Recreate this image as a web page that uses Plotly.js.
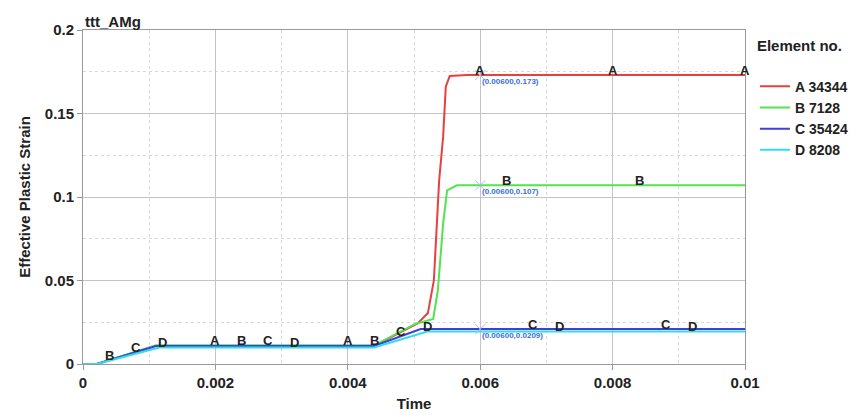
<!DOCTYPE html>
<html>
<head>
<meta charset="utf-8">
<script src="https://cdn.plot.ly/plotly-3.0.1.min.js"></script>
<style>html,body{margin:0;padding:0;background:#fff;}#chart{width:856px;height:417px;}</style>
</head>
<body>
<div id="chart"></div>
<script>
// Series A (element 34344)
const tA = [0, 0.00021, 0.0011, 0.0044, 0.00506, 0.00521, 0.0053, 0.00538, 0.00544, 0.00548, 0.00554, 0.0058, 0.01];
const vA = [0, 0, 0.0108, 0.0108, 0.0245, 0.0305, 0.050, 0.110, 0.136, 0.166, 0.1725, 0.173, 0.173];
// Series B (element 7128)
const tB = [0, 0.00021, 0.0011, 0.0044, 0.00502, 0.00529, 0.00536, 0.00544, 0.0055, 0.00565, 0.01];
const vB = [0, 0, 0.0112, 0.0112, 0.024, 0.027, 0.044, 0.084, 0.104, 0.107, 0.107];
// Series C (element 35424)
const tC = [0, 0.00021, 0.0011, 0.0044, 0.0051, 0.01];
const vC = [0, 0, 0.0108, 0.0108, 0.0209, 0.0209];
// Series D (element 8208)
const tD = [0, 0.00021, 0.00115, 0.0044, 0.0052, 0.01];
const vD = [0, 0, 0.0099, 0.0099, 0.0195, 0.0195];

const letters = ['A', 'B', 'C', 'D'];
const elementNos = ['34344', '7128', '35424', '8208'];
const colors = ['#e8403f', '#52e34f', '#3f3fdc', '#33dcea'];
// label positions (time) along each curve
const labelT = [
  [0.002, 0.004, 0.006, 0.008, 0.01],
  [0.0004, 0.0024, 0.0044, 0.0064, 0.0084],
  [0.0008, 0.0028, 0.0048, 0.0068, 0.0088],
  [0.0012, 0.0032, 0.0052, 0.0072, 0.0092]
];
// data cursor readouts
const cursorT = [0.006, 0.006, 0.006];
const cursorV = [0.173, 0.107, 0.0209];
const cursorText = ['(0.00600,0.173)', '(0.00600,0.107)', '(0.00600,0.0209)'];

const xTicks = [0, 0.002, 0.004, 0.006, 0.008, 0.01];
const xTickText = ['0', '0.002', '0.004', '0.006', '0.008', '0.01'];
const yTicks = [0, 0.05, 0.1, 0.15, 0.2];
const yTickText = ['0', '0.05', '0.1', '0.15', '0.2'];

const ts = [tA, tB, tC, tD];
const vs = [vA, vB, vC, vD];

function interp(t, x, y) {
  for (let i = 0; i < x.length - 1; i++) {
    if (t >= x[i] && t <= x[i + 1]) {
      const f = (t - x[i]) / (x[i + 1] - x[i]);
      return y[i] + f * (y[i + 1] - y[i]);
    }
  }
  return y[y.length - 1];
}

const FONT = 'Liberation Sans, Arial, sans-serif';
const traces = [];
for (let k = 0; k < 4; k++) {
  traces.push({
    x: ts[k], y: vs[k], type: 'scatter', mode: 'lines',
    line: {color: colors[k], width: 2},
    name: '<b>' + letters[k] + ' ' + elementNos[k] + '</b>',
    showlegend: true
  });
}
traces.push({
  x: cursorT, y: cursorV, type: 'scatter', mode: 'markers',
  marker: {symbol: 'x-thin-open', size: 10, color: '#a9bde8', line: {width: 1, color: '#a9bde8'}},
  showlegend: false, hoverinfo: 'skip'
});

const annotations = [];
for (let k = 0; k < 4; k++) {
  labelT[k].forEach(t => {
    annotations.push({
      x: t, y: interp(t, ts[k], vs[k]), xref: 'x', yref: 'y',
      text: '<b>' + letters[k] + '</b>', showarrow: false,
      yshift: 5, font: {family: FONT, size: 13, color: '#222'}
    });
  });
}
cursorT.forEach((t, i) => {
  annotations.push({
    x: t, y: cursorV[i], xref: 'x', yref: 'y', text: '<b>' + cursorText[i] + '</b>',
    showarrow: false, xanchor: 'left', yanchor: 'top', xshift: 0, yshift: 0,
    font: {family: FONT, size: 8, color: '#3a70d8'}
  });
});
annotations.push({
  x: 0, y: 1, xref: 'paper', yref: 'paper', xanchor: 'left', yanchor: 'bottom',
  text: '<b>ttt_AMg</b>', showarrow: false, xshift: 0, yshift: -2,
  font: {family: FONT, size: 15, color: '#222'}
});

const layout = {
  width: 856, height: 417,
  margin: {l: 83, r: 111, t: 30, b: 53, autoexpand: false},
  paper_bgcolor: '#fff', plot_bgcolor: '#fff',
  font: {family: FONT, color: '#222'},
  xaxis: {
    range: [0, 0.01], tickvals: xTicks, ticktext: xTickText.map(s => '<b>' + s + '</b>'),
    tickfont: {family: FONT, size: 15, color: '#222'},
    showgrid: true, gridcolor: '#c4c4c4', gridwidth: 1,
    minor: {dtick: 0.001, showgrid: true, gridcolor: '#d8d8d8', griddash: 'dot', ticks: ''},
    showline: true, linecolor: '#999', mirror: true, ticks: 'outside', ticklen: 5, tickcolor: '#999',
    zeroline: false, automargin: false,
    title: {text: '<b>Time</b>', font: {family: FONT, size: 15, color: '#222'}, standoff: 8}
  },
  yaxis: {
    range: [0, 0.2], tickvals: yTicks, ticktext: yTickText.map(s => '<b>' + s + '</b>'),
    tickfont: {family: FONT, size: 15, color: '#222'},
    showgrid: true, gridcolor: '#c4c4c4', gridwidth: 1,
    minor: {dtick: 0.025, showgrid: true, gridcolor: '#d8d8d8', griddash: 'dot', ticks: ''},
    showline: true, linecolor: '#999', mirror: true, ticks: 'outside', ticklen: 5, tickcolor: '#999',
    zeroline: false, automargin: false,
    title: {text: '<b>Effective Plastic Strain</b>', font: {family: FONT, size: 15, color: '#222'}, standoff: 10}
  },
  legend: {
    x: 1.015, y: 0.995, xanchor: 'left', yanchor: 'top',
    title: {text: '<b>Element no.</b><br> ', font: {family: FONT, size: 15, color: '#222'}},
    font: {family: FONT, size: 14, color: '#222'},
    bgcolor: 'rgba(0,0,0,0)', tracegroupgap: 0, itemwidth: 30
  },
  annotations: annotations,
  showlegend: true
};

Plotly.newPlot('chart', traces, layout, {displayModeBar: false, staticPlot: true});
</script>
</body>
</html>
